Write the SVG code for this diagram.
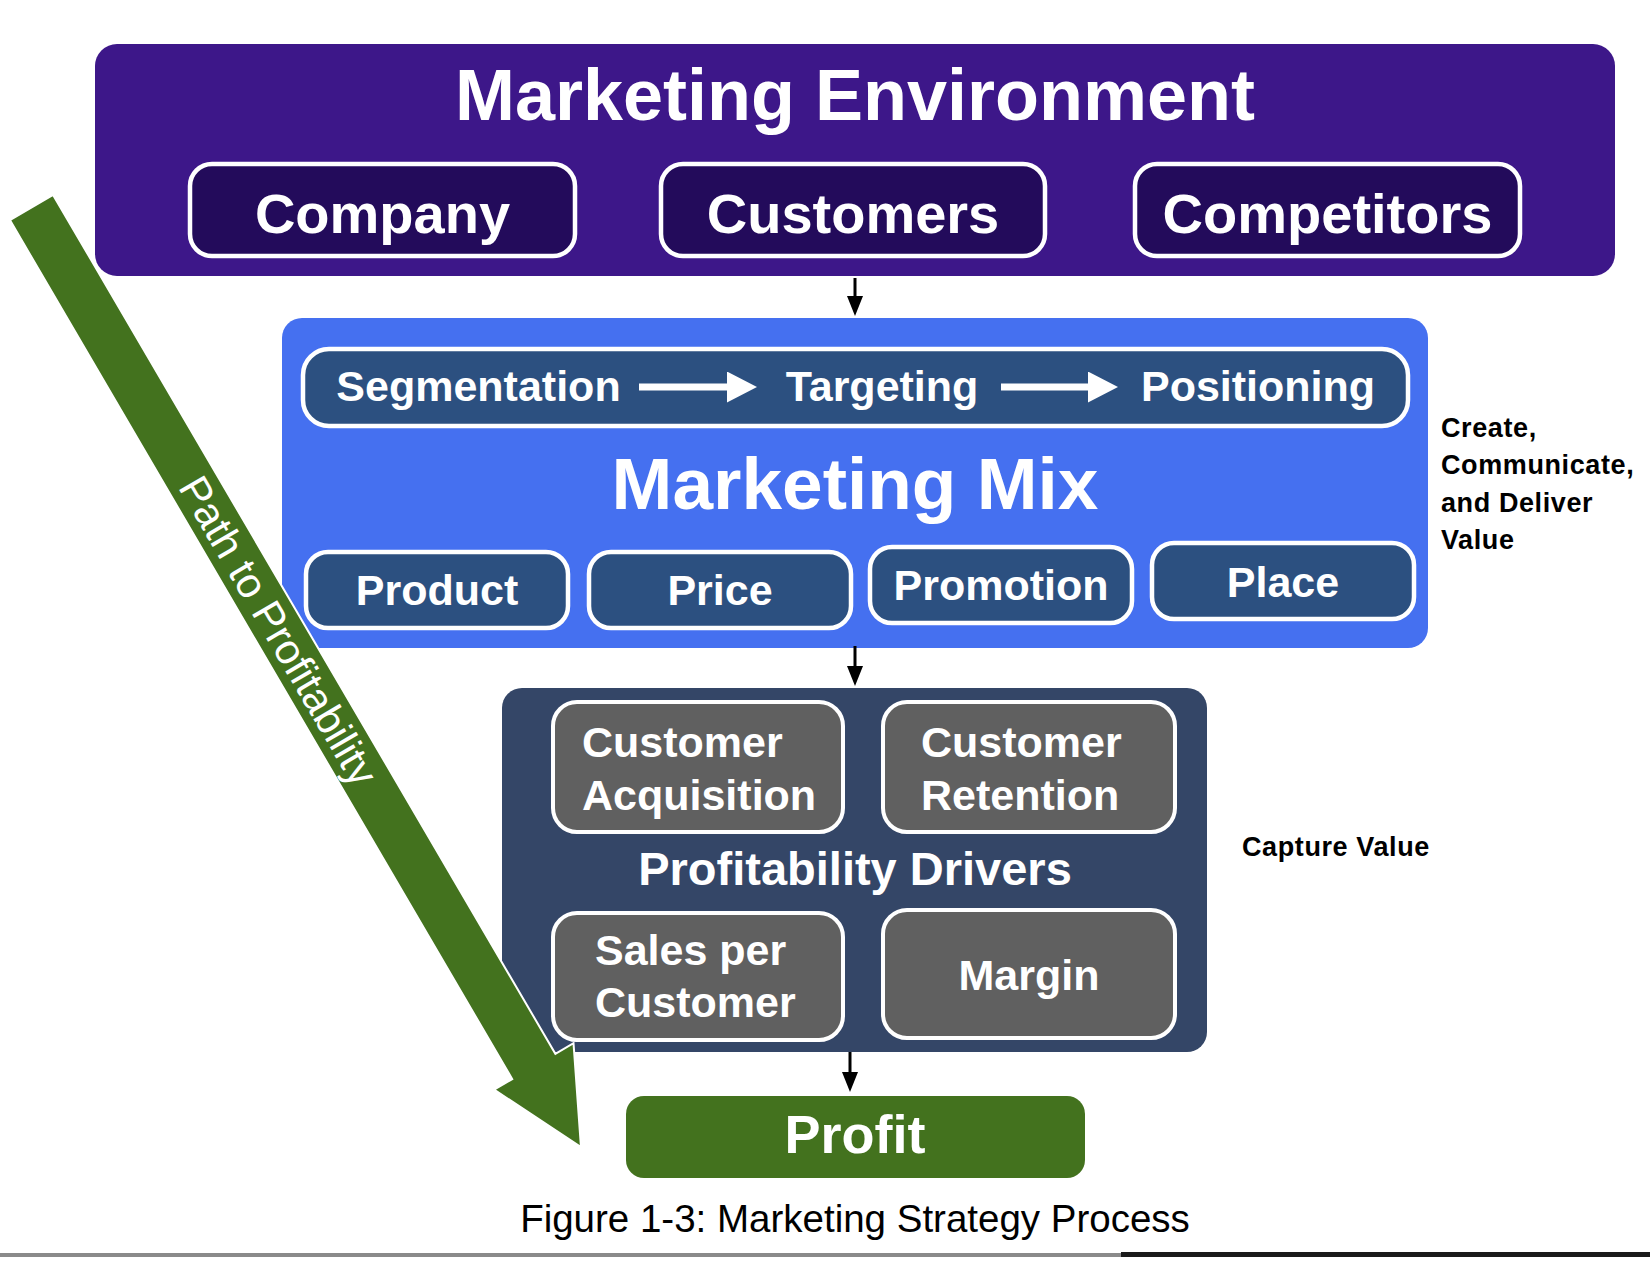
<svg xmlns="http://www.w3.org/2000/svg" width="1650" height="1275" viewBox="0 0 1650 1275">
  <defs>
    <style>
      .t { font-family: "Liberation Sans", Arial, Helvetica, sans-serif; font-weight: bold; fill: #ffffff; }
      .env { fill: #3D1789; }
      .envbox { fill: #230B5B; stroke: #ffffff; stroke-width: 4.5; }
      .mix { fill: #4570F0; }
      .navybox { fill: #2C5080; stroke: #ffffff; stroke-width: 4.5; }
      .drv { fill: #344667; }
      .graybox { fill: #606060; stroke: #ffffff; stroke-width: 4; }
      .green { fill: #43721E; }
      .side { font-family: "Liberation Sans", Arial, Helvetica, sans-serif; font-weight: bold; fill: #000000; font-size: 27px; letter-spacing: 0.6px; }
      .conn { stroke: #000000; stroke-width: 3; fill: none; }
      .wconn { stroke: #ffffff; stroke-width: 7; fill: none; }
    </style>
    <marker id="blackHead" viewBox="0 0 20 16" refX="0" refY="8" markerWidth="20" markerHeight="16" markerUnits="userSpaceOnUse" orient="auto">
      <polygon points="0,0 20,8 0,16" fill="#000000"/>
    </marker>
    <marker id="whiteHead" viewBox="0 0 30 31" refX="0" refY="15.5" markerWidth="30" markerHeight="31" markerUnits="userSpaceOnUse" orient="auto">
      <polygon points="0,0 30,15.5 0,31" fill="#ffffff"/>
    </marker>
  </defs>

  <rect width="1650" height="1275" fill="#ffffff"/>

  <!-- Marketing Environment -->
  <g id="marketing-environment">
    <rect class="env" x="95" y="44" width="1520" height="232" rx="22"/>
    <text class="t" x="855" y="120" font-size="72" text-anchor="middle">Marketing Environment</text>
  </g>
  <g id="company">
    <rect class="envbox" x="190" y="164" width="385" height="92" rx="22"/>
    <text class="t" x="382.5" y="233" font-size="56" text-anchor="middle">Company</text>
  </g>
  <g id="customers">
    <rect class="envbox" x="661" y="164" width="384" height="92" rx="22"/>
    <text class="t" x="853" y="233" font-size="56" text-anchor="middle">Customers</text>
  </g>
  <g id="competitors">
    <rect class="envbox" x="1135" y="164" width="385" height="92" rx="22"/>
    <text class="t" x="1327.5" y="233" font-size="56" text-anchor="middle">Competitors</text>
  </g>

  <!-- Marketing Mix -->
  <g id="marketing-mix">
    <rect class="mix" x="282" y="318" width="1146" height="330" rx="20"/>
    <text class="t" x="855" y="509" font-size="73" text-anchor="middle">Marketing Mix</text>
  </g>
  <g id="stp">
    <rect class="navybox" x="303" y="349" width="1105" height="77" rx="26"/>
  </g>
  <g id="segmentation">
    <text class="t" x="478.5" y="401" font-size="43" text-anchor="middle">Segmentation</text>
  </g>
  <g id="targeting">
    <text class="t" x="882" y="401" font-size="43" text-anchor="middle">Targeting</text>
  </g>
  <g id="positioning">
    <text class="t" x="1258" y="401" font-size="43" text-anchor="middle">Positioning</text>
  </g>
  <g id="product">
    <rect class="navybox" x="306" y="552" width="262" height="76" rx="22"/>
    <text class="t" x="437" y="605" font-size="43" text-anchor="middle">Product</text>
  </g>
  <g id="price">
    <rect class="navybox" x="589" y="552" width="262" height="76" rx="22"/>
    <text class="t" x="720" y="605" font-size="43" text-anchor="middle">Price</text>
  </g>
  <g id="promotion">
    <rect class="navybox" x="870" y="547" width="262" height="76" rx="22"/>
    <text class="t" x="1001" y="600" font-size="43" text-anchor="middle">Promotion</text>
  </g>
  <g id="place">
    <rect class="navybox" x="1152" y="543" width="262" height="76" rx="22"/>
    <text class="t" x="1283" y="597" font-size="43" text-anchor="middle">Place</text>
  </g>
  <g id="create-label">
    <text class="side" x="1441" y="437">Create,</text>
    <text class="side" x="1441" y="474">Communicate,</text>
    <text class="side" x="1441" y="512">and Deliver</text>
    <text class="side" x="1441" y="549">Value</text>
  </g>

  <!-- Profitability Drivers -->
  <g id="profitability-drivers">
    <rect class="drv" x="502" y="688" width="705" height="364" rx="20"/>
    <text class="t" x="855" y="885" font-size="47" text-anchor="middle">Profitability Drivers</text>
  </g>
  <g id="customer-acquisition">
    <rect class="graybox" x="553" y="702" width="290" height="130" rx="24"/>
    <text class="t" x="582" y="757" font-size="43">Customer</text>
    <text class="t" x="582" y="810" font-size="43">Acquisition</text>
  </g>
  <g id="customer-retention">
    <rect class="graybox" x="883" y="702" width="292" height="130" rx="24"/>
    <text class="t" x="921" y="757" font-size="43">Customer</text>
    <text class="t" x="921" y="810" font-size="43">Retention</text>
  </g>
  <g id="sales-per-customer">
    <rect class="graybox" x="553" y="913" width="290" height="127" rx="24"/>
    <text class="t" x="595" y="965" font-size="43">Sales per</text>
    <text class="t" x="595" y="1017" font-size="43">Customer</text>
  </g>
  <g id="margin">
    <rect class="graybox" x="883" y="910" width="292" height="128" rx="24"/>
    <text class="t" x="1029" y="990" font-size="43" text-anchor="middle">Margin</text>
  </g>
  <g id="capture-label">
    <text class="side" x="1242" y="856">Capture Value</text>
  </g>

  <!-- Profit -->
  <g id="profit">
    <rect class="green" x="626" y="1096" width="459" height="82" rx="18"/>
    <text class="t" x="855" y="1153" font-size="54" text-anchor="middle">Profit</text>
  </g>

  <!-- Connectors -->
  <g id="connectors">
    <line class="conn" x1="855" y1="278" x2="855" y2="296" marker-end="url(#blackHead)"/>
    <line class="conn" x1="855" y1="646" x2="855" y2="666" marker-end="url(#blackHead)"/>
    <line class="conn" x1="850" y1="1052" x2="850" y2="1072" marker-end="url(#blackHead)"/>
    <line class="wconn" x1="639" y1="387" x2="727" y2="387" marker-end="url(#whiteHead)"/>
    <line class="wconn" x1="1001" y1="387" x2="1088" y2="387" marker-end="url(#whiteHead)"/>
  </g>

  <!-- Path to Profitability -->
  <g id="path-to-profitability" transform="translate(31.5,207.5) rotate(59.68)">
    <polygon class="green" stroke="#ffffff" stroke-width="2" stroke-linejoin="miter" points="0,-25 995,-25 995,-46 1088.4,0 995,46 995,25 0,25"/>
    <text x="490" y="15" font-family="Liberation Sans, Arial, Helvetica, sans-serif" font-size="42" fill="#ffffff" text-anchor="middle">Path to Profitability</text>
  </g>

  <!-- Caption -->
  <g id="caption">
    <text x="855" y="1232" font-family="Liberation Sans, Arial, Helvetica, sans-serif" font-size="38.5" fill="#000000" text-anchor="middle">Figure 1-3: Marketing Strategy Process</text>
  </g>
  <g id="bottom-rule">
    <rect x="0" y="1253" width="1121" height="4" fill="#8a8a8a"/>
    <rect x="1121" y="1252" width="529" height="5" fill="#1a1a1a"/>
  </g>
</svg>
